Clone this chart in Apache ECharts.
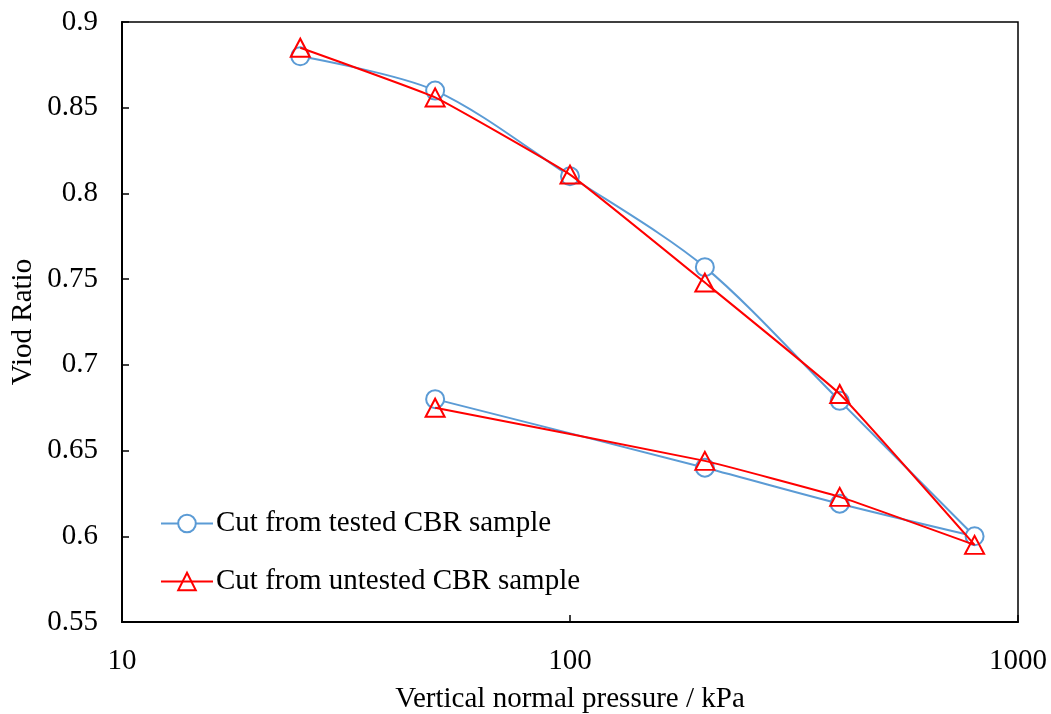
<!DOCTYPE html>
<html>
<head>
<meta charset="utf-8">
<script src="https://cdn.jsdelivr.net/npm/echarts@6/dist/echarts.min.js"></script>
<style>
  html, body { margin: 0; padding: 0; background: #fff; }
  #chart { width: 1051px; height: 714px; }
</style>
</head>
<body>
<div id="chart"></div>
<script>
// Loading then unloading path of the oedometer test (kPa)
const pressure = [25, 50, 100, 200, 400, 800, 400, 200, 50];
// Void ratio, specimen cut from the tested CBR sample
const voidTested = [0.880, 0.860, 0.810, 0.757, 0.679, 0.600, 0.619, 0.640, 0.680];
// Void ratio, specimen cut from the untested CBR sample
const voidUntested = [0.885, 0.856, 0.811, 0.748, 0.683, 0.595, 0.623, 0.644, 0.675];

const seriesNames = ['Cut from tested CBR sample', 'Cut from untested CBR sample'];
const xAxisTitle = 'Vertical normal pressure / kPa';
const yAxisTitle = 'Viod Ratio';

const font = 'Liberation Serif, Times New Roman, serif';
const fs = 29;
const blue = '#5b9bd5';
const red = '#ff0000';

const pairs = (xs, ys) => xs.map((x, i) => [x, ys[i]]);

const chart = echarts.init(document.getElementById('chart'), null, { renderer: 'canvas' });
chart.setOption({
  animation: false,
  backgroundColor: '#fff',
  textStyle: { fontFamily: font },
  grid: {
    left: 122, right: 33, top: 22, bottom: 92,
    outerBoundsMode: 'none', containLabel: false,
    show: true, borderColor: '#000', borderWidth: 1.5, backgroundColor: 'transparent'
  },
  legend: {
    orient: 'vertical',
    left: 160, top: 509, padding: 0,
    itemWidth: 52, itemHeight: 22, itemGap: 29,
    textStyle: { fontFamily: font, fontSize: fs, color: '#000', padding: [0, 0, 0, -2] },
    data: seriesNames
  },
  xAxis: {
    type: 'log', logBase: 10, min: 10, max: 1000,
    name: xAxisTitle, nameLocation: 'middle', nameGap: 63, nameMoveOverlap: false,
    nameTextStyle: { fontFamily: font, fontSize: fs, color: '#000' },
    axisLine: { lineStyle: { color: '#000', width: 2 } },
    axisTick: { inside: true, length: 7, lineStyle: { color: '#000', width: 1.5 } },
    minorTick: { show: false },
    axisLabel: { fontFamily: font, fontSize: fs, color: '#000', margin: 25, formatter: v => String(v) },
    splitLine: { show: false }
  },
  yAxis: {
    type: 'value', min: 0.55, max: 0.9, interval: 0.05,
    name: yAxisTitle, nameLocation: 'middle', nameGap: 84, nameRotate: 90, nameMoveOverlap: false,
    nameTextStyle: { fontFamily: font, fontSize: fs, color: '#000' },
    axisLine: { show: true, lineStyle: { color: '#000', width: 2 } },
    axisTick: { show: true, inside: true, length: 7, lineStyle: { color: '#000', width: 1.5 } },
    axisLabel: { fontFamily: font, fontSize: fs, color: '#000', margin: 24 },
    splitLine: { show: false }
  },
  series: [
    {
      name: seriesNames[0],
      type: 'line',
      data: pairs(pressure, voidTested),
      smooth: 0.3,
      symbol: 'circle',
      symbolSize: 18,
      lineStyle: { color: blue, width: 2 },
      itemStyle: { color: '#fff', borderColor: blue, borderWidth: 2 },
      z: 2
    },
    {
      name: seriesNames[1],
      type: 'line',
      data: pairs(pressure, voidUntested),
      smooth: 0.1,
      symbol: 'triangle',
      symbolSize: [19, 18],
      lineStyle: { color: red, width: 2 },
      itemStyle: { color: 'rgba(255,255,255,0)', borderColor: red, borderWidth: 2 },
      z: 3
    }
  ]
});
</script>
</body>
</html>
